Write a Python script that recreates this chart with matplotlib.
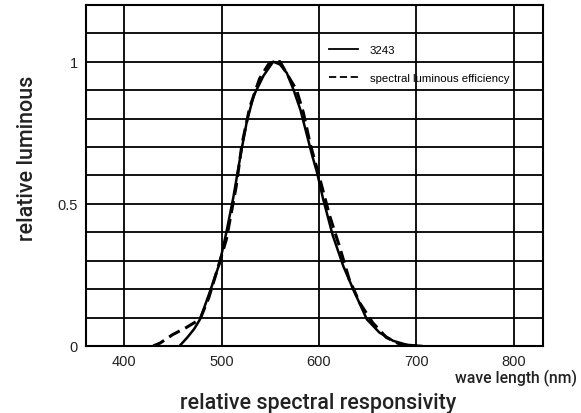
import matplotlib
matplotlib.use("Agg")
import matplotlib.pyplot as plt
import numpy as np

# Data
wl_3243 = [457, 465, 472, 478, 488, 498, 505, 512, 520, 526, 533, 543, 553, 560, 567, 574, 581, 587, 593, 598, 604, 614, 625, 635, 649, 662, 676, 690, 705]
val_3243 = [0.0, 0.03, 0.06, 0.094, 0.19, 0.29, 0.40, 0.52, 0.68, 0.79, 0.88, 0.95, 1.0, 0.99, 0.96, 0.90, 0.83, 0.75, 0.67, 0.61, 0.52, 0.39, 0.28, 0.20, 0.094, 0.047, 0.018, 0.004, 0.0]

wl_vlambda = [430, 437, 450, 464, 478, 487, 495, 505, 515, 521, 529, 539, 548, 553, 560, 570, 577, 584, 591, 601, 611, 621, 631, 642, 655, 669, 683, 693, 700]
val_vlambda = [0.0, 0.01, 0.04, 0.065, 0.094, 0.17, 0.26, 0.375, 0.56, 0.71, 0.84, 0.94, 0.99, 1.0, 1.0, 0.94, 0.90, 0.82, 0.71, 0.586, 0.457, 0.35, 0.234, 0.15, 0.082, 0.03, 0.006, 0.001, 0.0]

x_ticks = [400, 500, 600, 700, 800]
y_grid = [round(0.1 * i, 1) for i in range(13)]
y_labeled = {0.0: "0", 0.5: "0.5", 1.0: "1"}

plt.rcParams['font.family'] = ['Liberation Sans', 'DejaVu Sans']

fig = plt.figure(figsize=(5.81, 4.14), dpi=100)
ax = fig.add_axes([0.148, 0.162, 0.787, 0.824])

ax.set_xlim(361, 830)
ax.set_ylim(0, 1.2)

ax.set_xticks(x_ticks)
ax.set_xticklabels([str(t) for t in x_ticks], family=['Liberation Sans'])
ax.set_yticks(y_grid)
ax.set_yticklabels([y_labeled.get(v, "") for v in y_grid], family=['Liberation Sans'])
ax.tick_params(length=0, labelsize=10.5, pad=6, labelcolor='#222222')

ax.grid(True, color='black', linewidth=1.3)
ax.set_axisbelow(True)
for s in ax.spines.values():
    s.set_color('black')
    s.set_linewidth(1.5)

ax.plot(wl_3243, val_3243, color='black', linewidth=1.8, label='3243', zorder=3)
ax.plot(wl_vlambda, val_vlambda, color='black', linewidth=2.2, linestyle=(0, (4, 2)),
        label='spectral luminous efficiency', zorder=3)

leg = ax.legend(loc='upper left', bbox_to_anchor=(0.513, 0.905), frameon=False,
                prop={'family': ['Liberation Sans'], 'size': 8.2},
                handlelength=2.6, handletextpad=1.0, labelspacing=1.6, borderaxespad=0.3)
for line in leg.get_lines():
    line.set_linewidth(1.3)

lab_font = dict(family=['Roboto', 'Liberation Sans'], fontweight='medium', color='#222222')
fig.text(0.047, 0.618, "relative luminous", rotation=90, ha='center', va='center',
         fontsize=15.5, **lab_font)
fig.text(0.548, 0.026, "relative spectral responsivity", ha='center', va='center',
         fontsize=15.5, **lab_font)
fig.text(0.993, 0.085, "wave length (nm)", ha='right', va='center', fontsize=11.3,
         **lab_font)

fig.savefig("out.png", dpi=100)
